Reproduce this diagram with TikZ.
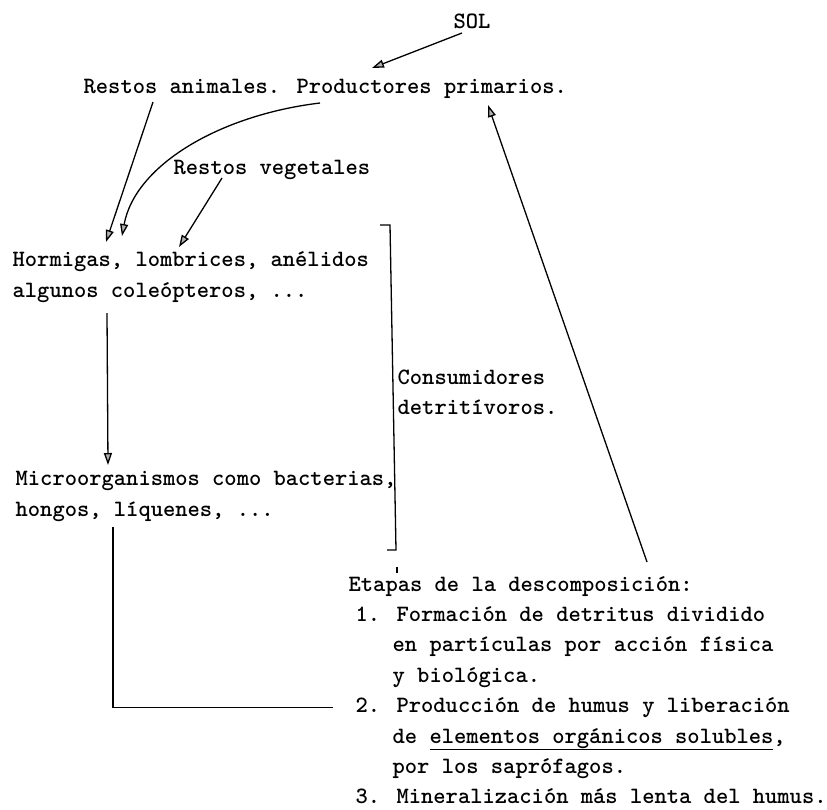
\documentclass[tikz,border=0pt]{standalone}
\usetikzlibrary{arrows.meta}
\begin{document}
\begin{tikzpicture}[x=1pt,y=-1pt,line width=1.3pt,
  >={Triangle[length=12pt,width=8pt,fill=gray!60]},
  txt/.style={anchor=base west,inner sep=0pt,font=\ttfamily\bfseries\fontsize{23.4}{31}\selectfont}]
\useasboundingbox (0,0) rectangle (827,809);

\node[txt] (sol) at (453,28) {SOL};
\node[txt] (restos) at (83,93) {Restos animales. Productores primarios.};
\node[txt] (veg) at (173,174) {Restos vegetales};
\node[txt] (horm) at (12,266) {Hormigas, lombrices, anélidos};
\node[txt] (alg) at (12,297) {algunos coleópteros, ...};
\node[txt] (micro) at (15,485) {Microorganismos como bacterias,};
\node[txt] (hong) at (15,516) {hongos, líquenes, ...};
\node[txt] (cons) at (397,384) {Consumidores};
\node[txt] (detr) at (397,414) {detritívoros.};
\node[txt] (etapas) at (348,591) {Etapas de la descomposición:};
\foreach \x/\t [count=\i] in {355/{1. Formación de detritus dividido},
    392/{en partículas por acción física},
    392/{y biológica.},
    355/{2. Producción de humus y liberación},
    392/{de \underline{elementos orgánicos solubles},},
    392/{por los saprófagos.},
    355/{3. Mineralización más lenta del humus.}}
{
    \node[txt] (l\i) at (\x,{591+30.4*\i}) {\t};
}

% ends of the arrows
\coordinate (solfoot) at (462,33);
\coordinate (prod) at (372,68);
\coordinate (ra) at (153,102);
\coordinate (hA) at (106,242);
\coordinate (pp) at (320,103);
\coordinate (hB) at (122,236);
\coordinate (rv) at (222,178);
\coordinate (hC) at (179,247);
\coordinate (algfoot) at (107,313);
\coordinate (mhead) at (108,465);
\coordinate (hongfoot) at (113,527);
\coordinate (etail) at (647,562);
\coordinate (prim) at (488,105);

\draw[->] (solfoot)--(prod);
\draw[->] (ra)--(hA);
\draw[->] (pp) .. controls (220,115) and (135,165) .. (hB);
\draw[->] (rv)--(hC);
\draw[->] (algfoot)--(mhead);
\draw[->] (etail)--(prim);
\draw (hongfoot) |- ([xshift=-22pt]l4.west);

% bracket
\draw (380,225)--(390,225)--(396,550)--(387,550);
\draw (397,567)--(397,573);
\end{tikzpicture}
\end{document}
